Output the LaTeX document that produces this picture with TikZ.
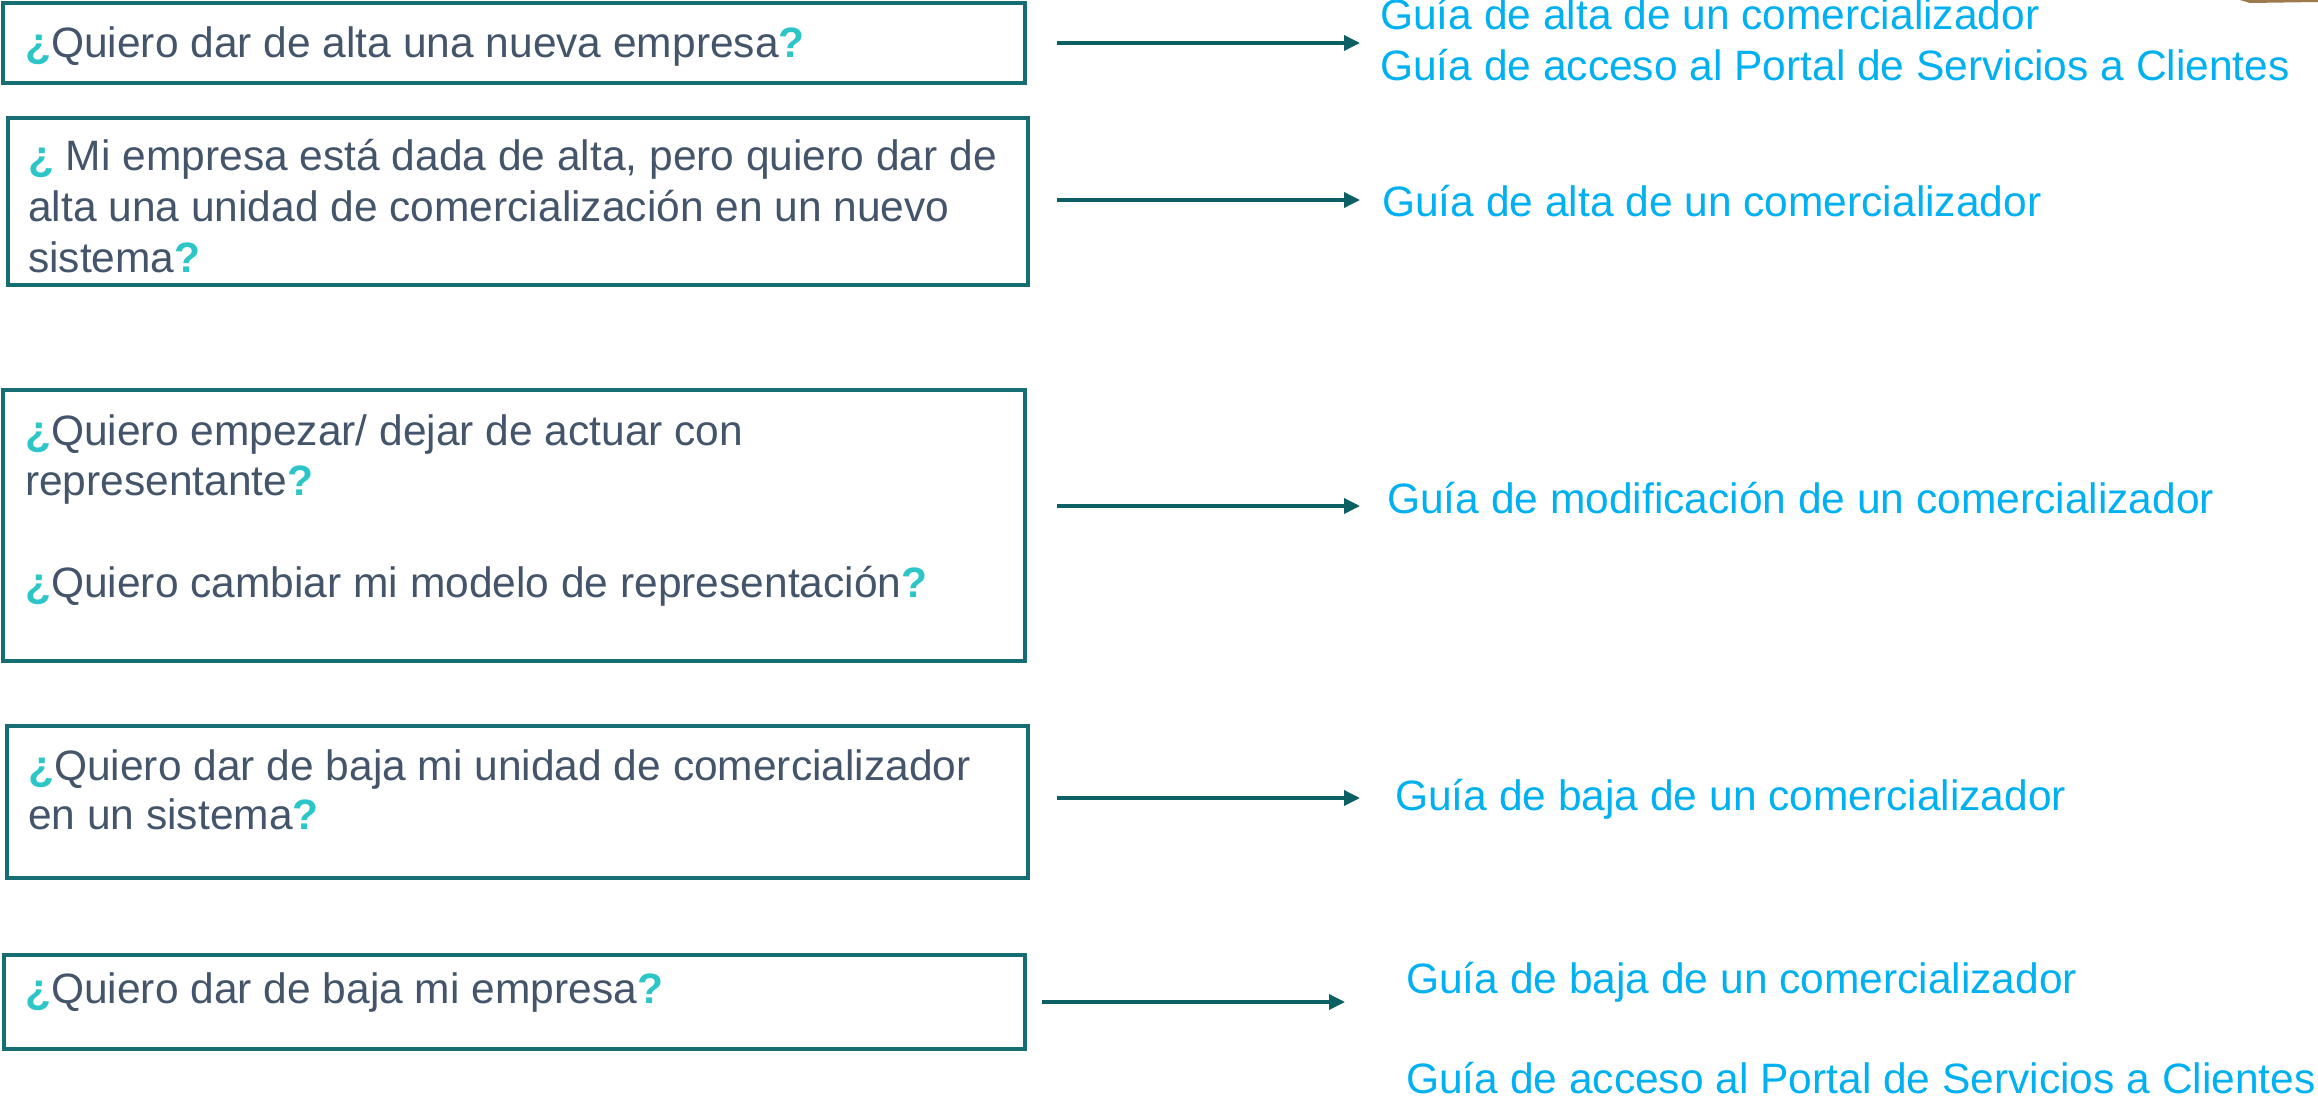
\documentclass[tikz,border=0pt]{standalone}
\usepackage{fontspec}
\setmainfont{Liberation Sans}
\usetikzlibrary{arrows.meta}
\definecolor{boxc}{HTML}{176E72}
\definecolor{arrc}{HTML}{0C5F62}
\definecolor{qtext}{HTML}{44546A}
\definecolor{qmark}{HTML}{2CC5C8}
\definecolor{guide}{HTML}{00B0F0}
\definecolor{imgc}{HTML}{9C7A4C}
\newcommand{\qo}{{\color{qmark}\bfseries ¿}}
\newcommand{\qc}{{\color{qmark}\bfseries ?}}
\begin{document}
\begin{tikzpicture}[x=1pt,y=-1pt,
 qbox/.style={draw=boxc,line width=3.5pt,inner sep=0pt,outer sep=0pt,anchor=north west},
 qtxt/.style={anchor=base west,inner sep=0pt,text=qtext,font=\fontsize{42.5}{50}\selectfont},
 gtxt/.style={anchor=base west,inner sep=0pt,text=guide,font=\fontsize{42.5}{50}\selectfont},
 arr/.style={draw=arrc,line width=3.5pt,-{Triangle[length=16pt,width=15pt]}}]
\useasboundingbox (0,0) rectangle (2318,1103);
\fill[imgc] (2240,0) -- (2318,0) -- (2318,2) -- (2250,3) -- cycle;

% boxes
\node[qbox,minimum width=1022pt,minimum height=80pt] (b1) at (3,3) {};
\node[qbox,minimum width=1020pt,minimum height=167pt] (b2) at (8,118) {};
\node[qbox,minimum width=1022pt,minimum height=271pt] (b3) at (3,390) {};
\node[qbox,minimum width=1021pt,minimum height=152pt] (b4) at (7,726) {};
\node[qbox,minimum width=1021pt,minimum height=94pt] (b5) at (4,955) {};

% question texts
\node[qtxt] (q1) at (25,57) {\qo Quiero dar de alta una nueva empresa\qc};
\node[qtxt] (q2a) at (28,170) {\qo{} Mi empresa está dada de alta, pero quiero dar de};
\node[qtxt] (q2b) at (28,221) {alta una unidad de comercialización en un nuevo};
\node[qtxt] (q2c) at (28,272) {sistema\qc};
\node[qtxt] (q3a) at (25,445) {\qo Quiero empezar/ dejar de actuar con};
\node[qtxt] (q3b) at (25,495) {representante\qc};
\node[qtxt] (q3c) at (25,597) {\qo Quiero cambiar mi modelo de representación\qc};
\node[qtxt] (q4a) at (28,780) {\qo Quiero dar de baja mi unidad de comercializador};
\node[qtxt] (q4b) at (28,829) {en un sistema\qc};
\node[qtxt] (q5) at (25,1003) {\qo Quiero dar de baja mi empresa\qc};

% guide texts
\node[gtxt] (g1a) at (1380,29) {Guía de alta de un comercializador};
\node[gtxt] (g1b) at (1380,80) {Guía de acceso al Portal de Servicios a Clientes};
\node[gtxt] (g2) at (1382,216) {Guía de alta de un comercializador};
\node[gtxt] (g3) at (1387,513) {Guía de modificación de un comercializador};
\node[gtxt] (g4) at (1395,810) {Guía de baja de un comercializador};
\node[gtxt] (g5a) at (1406,993) {Guía de baja de un comercializador};
\node[gtxt] (g5b) at (1406,1093) {Guía de acceso al Portal de Servicios a Clientes};

% arrows
\coordinate (s1) at (1057,43);   \coordinate (e1) at (1360,43);
\coordinate (s2) at (1057,200);  \coordinate (e2) at (1360,200);
\coordinate (s3) at (1057,506);  \coordinate (e3) at (1360,506);
\coordinate (s4) at (1057,798);  \coordinate (e4) at (1360,798);
\coordinate (s5) at (1042,1002); \coordinate (e5) at (1345,1002);
\draw[arr] (s1) -- (e1);
\draw[arr] (s2) -- (e2);
\draw[arr] (s3) -- (e3);
\draw[arr] (s4) -- (e4);
\draw[arr] (s5) -- (e5);
\end{tikzpicture}
\end{document}
